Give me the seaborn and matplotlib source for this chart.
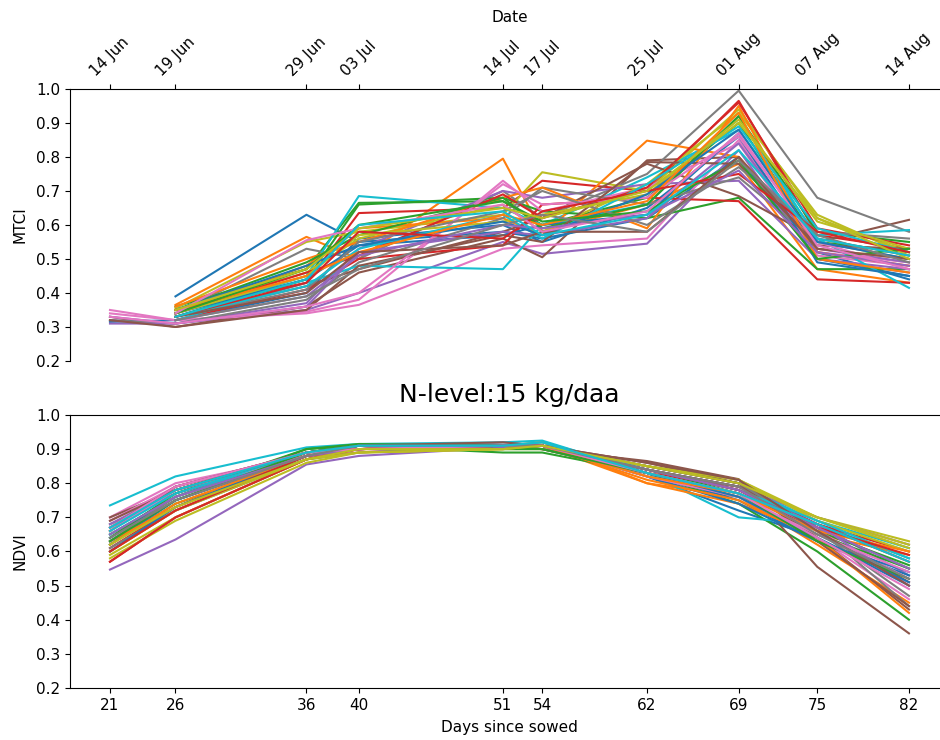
import numpy as np
import pandas as pd
import seaborn as sns
import matplotlib.pyplot as plt

nan = np.nan

# Days since sowing and the matching dates
days = [21, 26, 36, 40, 51, 54, 62, 69, 75, 82]
dates = ["14 Jun", "19 Jun", "29 Jun", "03 Jul", "14 Jul", "17 Jul",
         "25 Jul", "01 Aug", "07 Aug", "14 Aug"]

# MTCI per plot (one row per plot, one value per day)
mtci = [
    [nan, 0.39, 0.63, 0.55, 0.58, 0.56, 0.62, 0.80, 0.50, 0.45],
    [nan, 0.365, 0.565, 0.50, 0.795, 0.58, 0.66, 0.78, 0.47, 0.43],
    [nan, 0.36, 0.47, 0.665, 0.67, 0.60, 0.68, 0.90, 0.55, 0.52],
    [nan, 0.35, 0.43, 0.635, 0.65, 0.73, 0.70, 0.965, 0.57, 0.53],
    [0.32, 0.31, 0.35, 0.40, 0.55, 0.515, 0.545, 0.82, 0.50, 0.46],
    [0.33, 0.30, 0.36, 0.46, 0.56, 0.505, 0.79, 0.80, 0.55, 0.615],
    [0.35, 0.32, 0.34, 0.365, 0.53, 0.54, 0.56, 0.85, 0.52, 0.49],
    [nan, 0.34, 0.53, 0.50, 0.70, 0.62, 0.75, 0.995, 0.68, 0.58],
    [nan, 0.355, 0.55, 0.58, 0.63, 0.755, 0.70, 0.94, 0.62, 0.52],
    [nan, 0.33, 0.45, 0.685, 0.65, 0.60, 0.74, 0.88, 0.57, 0.585],
    [0.315, 0.32, 0.40, 0.56, 0.60, 0.55, 0.65, 0.86, 0.52, 0.44],
    [nan, 0.34, 0.48, 0.59, 0.62, 0.57, 0.848, 0.80, 0.53, 0.50],
    [nan, 0.33, 0.44, 0.66, 0.68, 0.64, 0.62, 0.68, 0.47, 0.47],
    [nan, 0.32, 0.41, 0.50, 0.54, 0.66, 0.68, 0.67, 0.44, 0.43],
    [0.33, 0.31, 0.37, 0.53, 0.70, 0.68, 0.72, 0.73, 0.50, 0.47],
    [nan, 0.33, 0.42, 0.47, 0.58, 0.62, 0.78, 0.685, 0.56, 0.51],
    [0.34, 0.32, 0.345, 0.38, 0.73, 0.64, 0.71, 0.84, 0.51, 0.48],
    [0.32, 0.31, 0.38, 0.49, 0.62, 0.71, 0.66, 0.74, 0.55, 0.50],
    [nan, 0.35, 0.46, 0.56, 0.66, 0.58, 0.72, 0.93, 0.63, 0.51],
    [nan, 0.32, 0.43, 0.48, 0.47, 0.60, 0.66, 0.92, 0.56, 0.415],
    [nan, 0.34, 0.44, 0.54, 0.57, 0.60, 0.63, 0.87, 0.49, 0.45],
    [nan, 0.36, 0.50, 0.55, 0.68, 0.71, 0.59, 0.95, 0.52, 0.48],
    [nan, 0.35, 0.49, 0.57, 0.68, 0.59, 0.66, 0.92, 0.58, 0.55],
    [nan, 0.34, 0.46, 0.51, 0.69, 0.62, 0.71, 0.96, 0.59, 0.54],
    [0.31, 0.31, 0.36, 0.52, 0.58, 0.57, 0.62, 0.84, 0.53, 0.49],
    [0.32, 0.30, 0.35, 0.48, 0.57, 0.55, 0.785, 0.78, 0.54, 0.53],
    [0.33, 0.31, 0.36, 0.40, 0.72, 0.66, 0.68, 0.86, 0.55, 0.47],
    [nan, 0.33, 0.41, 0.55, 0.64, 0.70, 0.60, 0.77, 0.58, 0.56],
    [nan, 0.34, 0.45, 0.57, 0.61, 0.63, 0.69, 0.91, 0.61, 0.53],
    [nan, 0.33, 0.42, 0.53, 0.63, 0.56, 0.72, 0.89, 0.59, 0.52],
    [nan, 0.35, 0.48, 0.54, 0.61, 0.57, 0.69, 0.88, 0.55, 0.50],
    [nan, 0.35, 0.45, 0.52, 0.63, 0.60, 0.67, 0.93, 0.50, 0.46],
    [nan, 0.34, 0.47, 0.60, 0.67, 0.61, 0.64, 0.79, 0.50, 0.53],
    [nan, 0.33, 0.43, 0.58, 0.56, 0.64, 0.70, 0.75, 0.58, 0.52],
    [nan, 0.32, 0.39, 0.51, 0.60, 0.59, 0.63, 0.76, 0.52, 0.48],
    [nan, 0.33, 0.40, 0.52, 0.54, 0.58, 0.58, 0.80, 0.53, 0.50],
    [nan, 0.34, 0.555, 0.59, 0.66, 0.58, 0.64, 0.87, 0.54, 0.47],
    [nan, 0.32, 0.39, 0.47, 0.60, 0.63, 0.58, 0.79, 0.57, 0.49],
    [nan, 0.35, 0.47, 0.59, 0.65, 0.62, 0.70, 0.90, 0.62, 0.50],
    [nan, 0.33, 0.44, 0.60, 0.64, 0.57, 0.63, 0.82, 0.56, 0.51],
]

# NDVI per plot
ndvi = [
    [0.63, 0.75, 0.88, 0.90, 0.91, 0.91, 0.82, 0.72, 0.64, 0.50],
    [0.60, 0.72, 0.88, 0.90, 0.90, 0.91, 0.80, 0.76, 0.62, 0.45],
    [0.62, 0.74, 0.87, 0.91, 0.89, 0.89, 0.83, 0.74, 0.60, 0.40],
    [0.57, 0.70, 0.87, 0.90, 0.91, 0.91, 0.84, 0.78, 0.66, 0.51],
    [0.547, 0.635, 0.855, 0.88, 0.905, 0.91, 0.83, 0.77, 0.68, 0.53],
    [0.66, 0.79, 0.89, 0.90, 0.91, 0.90, 0.865, 0.812, 0.555, 0.36],
    [0.70, 0.80, 0.88, 0.89, 0.92, 0.91, 0.82, 0.76, 0.64, 0.46],
    [0.68, 0.77, 0.89, 0.91, 0.91, 0.91, 0.84, 0.79, 0.67, 0.55],
    [0.59, 0.70, 0.87, 0.89, 0.90, 0.90, 0.85, 0.80, 0.70, 0.63],
    [0.735, 0.82, 0.905, 0.915, 0.92, 0.925, 0.83, 0.70, 0.68, 0.58],
    [0.64, 0.76, 0.89, 0.91, 0.91, 0.91, 0.83, 0.75, 0.63, 0.53],
    [0.66, 0.78, 0.89, 0.91, 0.91, 0.92, 0.80, 0.74, 0.65, 0.59],
    [0.65, 0.76, 0.90, 0.915, 0.91, 0.91, 0.84, 0.77, 0.66, 0.56],
    [0.61, 0.73, 0.88, 0.90, 0.91, 0.90, 0.83, 0.79, 0.68, 0.60],
    [0.67, 0.77, 0.88, 0.90, 0.91, 0.91, 0.84, 0.79, 0.70, 0.62],
    [0.70, 0.78, 0.89, 0.91, 0.91, 0.91, 0.85, 0.80, 0.64, 0.43],
    [0.69, 0.79, 0.89, 0.90, 0.91, 0.90, 0.83, 0.77, 0.66, 0.52],
    [0.61, 0.72, 0.87, 0.89, 0.91, 0.91, 0.85, 0.80, 0.67, 0.44],
    [0.58, 0.69, 0.86, 0.89, 0.90, 0.91, 0.85, 0.81, 0.70, 0.62],
    [0.65, 0.76, 0.89, 0.91, 0.91, 0.91, 0.84, 0.79, 0.69, 0.61],
    [0.62, 0.75, 0.88, 0.91, 0.91, 0.91, 0.82, 0.74, 0.63, 0.54],
    [0.63, 0.73, 0.89, 0.90, 0.91, 0.91, 0.81, 0.75, 0.64, 0.42],
    [0.64, 0.77, 0.90, 0.91, 0.90, 0.90, 0.83, 0.76, 0.65, 0.55],
    [0.57, 0.70, 0.87, 0.90, 0.91, 0.91, 0.84, 0.79, 0.68, 0.57],
    [0.68, 0.78, 0.88, 0.90, 0.91, 0.91, 0.84, 0.78, 0.68, 0.50],
    [0.67, 0.79, 0.89, 0.91, 0.91, 0.91, 0.86, 0.80, 0.63, 0.44],
    [0.66, 0.78, 0.88, 0.90, 0.91, 0.91, 0.82, 0.76, 0.65, 0.54],
    [0.63, 0.76, 0.88, 0.91, 0.91, 0.91, 0.85, 0.80, 0.66, 0.47],
    [0.60, 0.72, 0.87, 0.89, 0.90, 0.91, 0.85, 0.81, 0.69, 0.60],
    [0.66, 0.77, 0.89, 0.91, 0.91, 0.92, 0.84, 0.78, 0.69, 0.58],
    [0.60, 0.73, 0.88, 0.90, 0.91, 0.91, 0.83, 0.76, 0.64, 0.51],
    [0.62, 0.74, 0.88, 0.90, 0.91, 0.91, 0.82, 0.77, 0.66, 0.60],
    [0.63, 0.75, 0.89, 0.91, 0.91, 0.90, 0.83, 0.77, 0.63, 0.52],
    [0.60, 0.72, 0.88, 0.90, 0.91, 0.91, 0.84, 0.78, 0.67, 0.59],
    [0.65, 0.76, 0.88, 0.90, 0.91, 0.91, 0.84, 0.78, 0.67, 0.55],
    [0.69, 0.78, 0.89, 0.91, 0.92, 0.91, 0.86, 0.81, 0.66, 0.50],
    [0.67, 0.79, 0.89, 0.90, 0.91, 0.91, 0.83, 0.77, 0.64, 0.49],
    [0.64, 0.75, 0.88, 0.91, 0.91, 0.91, 0.84, 0.79, 0.65, 0.52],
    [0.62, 0.73, 0.87, 0.90, 0.90, 0.91, 0.85, 0.80, 0.70, 0.61],
    [0.67, 0.78, 0.89, 0.91, 0.91, 0.92, 0.83, 0.77, 0.68, 0.57],
]


def to_long(rows, name):
    recs = []
    for i, row in enumerate(rows):
        for d, v in zip(days, row):
            recs.append({"plot": i, "day": d, name: v})
    return pd.DataFrame(recs).dropna()


df_mtci = to_long(mtci, "MTCI")
df_ndvi = to_long(ndvi, "NDVI")
palette = [sns.color_palette("tab10")[i % 10] for i in range(len(mtci))]

plt.rcParams["font.size"] = 11

fig = plt.figure(figsize=(9.4, 7.4), dpi=100)
ax1 = fig.add_axes([0.0745, 0.5122, 0.935, 0.3676])
ax2 = fig.add_axes([0.0745, 0.0703, 0.935, 0.3689])

# Top: MTCI with dates on the upper axis
sns.lineplot(data=df_mtci, x="day", y="MTCI", hue="plot", palette=palette,
             estimator=None, legend=False, linewidth=1.5, ax=ax1)
ax1.set_ylim(0.2, 1.0)
ax1.set_yticks(np.arange(0.2, 1.01, 0.1))
ax1.xaxis.tick_top()
ax1.xaxis.set_label_position("top")
ax1.set_xticks(days)
ax1.set_xticklabels(dates, rotation=45)
ax1.set_xlabel("Date", labelpad=6)
ax1.set_ylabel("MTCI", labelpad=6)
ax1.spines["bottom"].set_visible(False)
ax1.spines["right"].set_visible(False)

# Bottom: NDVI
sns.lineplot(data=df_ndvi, x="day", y="NDVI", hue="plot", palette=palette,
             estimator=None, legend=False, linewidth=1.5, ax=ax2)
ax2.set_ylim(0.2, 1.0)
ax2.set_yticks(np.arange(0.2, 1.01, 0.1))
ax2.set_xticks(days)
ax2.set_xlabel("Days since sowed", labelpad=5)
ax2.set_ylabel("NDVI", labelpad=6)
ax2.set_title("N-level:15 kg/daa", fontsize=18, pad=9)
ax2.spines["right"].set_visible(False)

xl = ax2.get_xlim()
ax1.set_xlim(xl)

fig.savefig("out.png", dpi=100)
